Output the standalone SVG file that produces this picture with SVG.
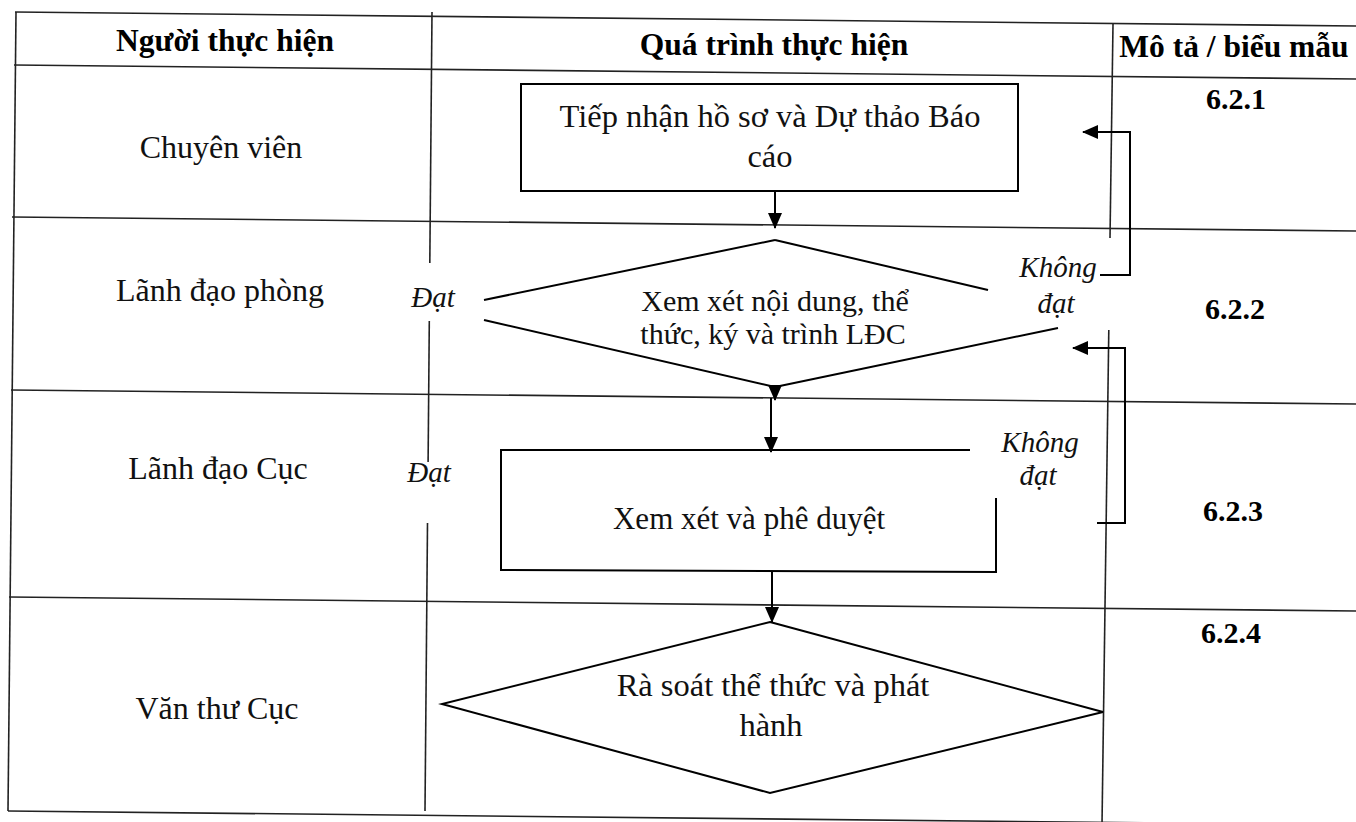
<svg xmlns="http://www.w3.org/2000/svg" width="1356" height="822" viewBox="0 0 1356 822">
<defs>
<marker id="ah" markerUnits="userSpaceOnUse" markerWidth="16" markerHeight="14" viewBox="0 0 16 14" refX="15" refY="7" orient="auto">
<path d="M0,0 L16,7 L0,14 Z" fill="#000"/>
</marker>
</defs>
<style>
.grid{stroke:#222;stroke-width:1.6;fill:none}
.shape{stroke:#000;stroke-width:2;fill:none}
.conn{stroke:#000;stroke-width:2;fill:none}
.hd{font-family:"Liberation Serif","Times New Roman",serif;font-weight:bold;font-size:31.5px;fill:#000}
.lbl{font-family:"Liberation Serif","Times New Roman",serif;font-size:32px;fill:#111}
.txt{font-family:"Liberation Serif","Times New Roman",serif;font-size:31px;fill:#111}
.it{font-family:"Liberation Serif","Times New Roman",serif;font-style:italic;font-size:29px;fill:#111}
.num{font-family:"Liberation Serif","Times New Roman",serif;font-weight:bold;font-size:30px;fill:#000}
</style>
<rect width="1356" height="822" fill="#fff"/>
<g id="table">
<line class="grid" x1="15" y1="12" x2="1356" y2="26"/>
<line class="grid" x1="14" y1="65" x2="1356" y2="79"/>
<line class="grid" x1="12" y1="217" x2="1356" y2="231"/>
<line class="grid" x1="11" y1="390" x2="1356" y2="404"/>
<line class="grid" x1="9" y1="597" x2="1356" y2="611"/>
<line class="grid" x1="8" y1="811" x2="1356" y2="825"/>
<line class="grid" x1="16" y1="12" x2="8" y2="811"/>
<line class="grid" x1="432" y1="12" x2="429.8" y2="263"/>
<line class="grid" x1="429.3" y1="321" x2="428.1" y2="462"/>
<line class="grid" x1="427.5" y1="523" x2="425" y2="811"/>
<line class="grid" x1="1113" y1="24" x2="1110" y2="238"/>
<line class="grid" x1="1108.8" y1="330" x2="1102" y2="825"/>
</g>
<g id="headers">
<text class="hd" x="225" y="51" text-anchor="middle">Người thực hiện</text>
<text class="hd" x="774" y="55" text-anchor="middle">Quá trình thực hiện</text>
<text class="hd" x="1234" y="57" text-anchor="middle">Mô tả / biểu mẫu</text>
</g>
<g id="lanes">
<text class="lbl" x="221" y="158" text-anchor="middle">Chuyên viên</text>
<text class="lbl" x="220" y="301" text-anchor="middle">Lãnh đạo phòng</text>
<text class="lbl" x="218" y="479" text-anchor="middle">Lãnh đạo Cục</text>
<text class="lbl" x="217" y="719" text-anchor="middle">Văn thư Cục</text>
</g>
<g id="codes">
<text class="num" x="1236" y="109" text-anchor="middle">6.2.1</text>
<text class="num" x="1235" y="319" text-anchor="middle">6.2.2</text>
<text class="num" x="1233" y="521" text-anchor="middle">6.2.3</text>
<text class="num" x="1231" y="643" text-anchor="middle">6.2.4</text>
</g>
<g id="n1">
<rect class="shape" x="521" y="84" width="497" height="107"/>
<text class="txt" x="770" y="127" text-anchor="middle" style="font-size:32.5px">Tiếp nhận hồ sơ và Dự thảo Báo</text>
<text class="txt" x="770" y="167" text-anchor="middle" style="font-size:32.5px">cáo</text>
</g>
<g id="n2">
<line class="shape" x1="484" y1="300" x2="775" y2="240"/>
<line class="shape" x1="775" y1="240" x2="988" y2="290"/>
<line class="shape" x1="484" y1="320" x2="775" y2="387"/>
<line class="shape" x1="775" y1="387" x2="1058" y2="328"/>
<text class="txt" x="775" y="311" text-anchor="middle" style="font-size:30px">Xem xét nội dung, thể</text>
<text class="txt" x="773" y="344" text-anchor="middle" style="font-size:30px">thức, ký và trình LĐC</text>
</g>
<g id="n3">
<polyline class="shape" points="970,450 501,450 501,570 996,572 996,498"/>
<text class="txt" x="749" y="529" text-anchor="middle">Xem xét và phê duyệt</text>
</g>
<g id="n4">
<polygon class="shape" points="770,622 1103,712 770,793 442,704"/>
<text class="txt" x="773" y="696" text-anchor="middle" style="font-size:32.5px">Rà soát thể thức và phát</text>
<text class="txt" x="771" y="736" text-anchor="middle" style="font-size:32.5px">hành</text>
</g>
<g id="labels">
<text class="it" x="433" y="307" text-anchor="middle">Đạt</text>
<text class="it" x="429" y="482" text-anchor="middle">Đạt</text>
<text class="it" x="1058" y="277" text-anchor="middle">Không</text>
<text class="it" x="1056" y="313" text-anchor="middle">đạt</text>
<text class="it" x="1040" y="452" text-anchor="middle">Không</text>
<text class="it" x="1038" y="485" text-anchor="middle">đạt</text>
</g>
<g id="connectors">
<line class="conn" x1="775" y1="191" x2="775" y2="228" marker-end="url(#ah)"/>
<line class="conn" x1="775" y1="386" x2="775" y2="400" marker-end="url(#ah)"/>
<line class="conn" x1="771" y1="398" x2="771" y2="452" marker-end="url(#ah)"/>
<line class="conn" x1="772" y1="572" x2="772" y2="622" marker-end="url(#ah)"/>
<polyline class="conn" points="1100,275 1130,275 1130,132 1083,132" marker-end="url(#ah)"/>
<polyline class="conn" points="1097,523 1125,523 1125,348 1073,348" marker-end="url(#ah)"/>
</g>
</svg>
